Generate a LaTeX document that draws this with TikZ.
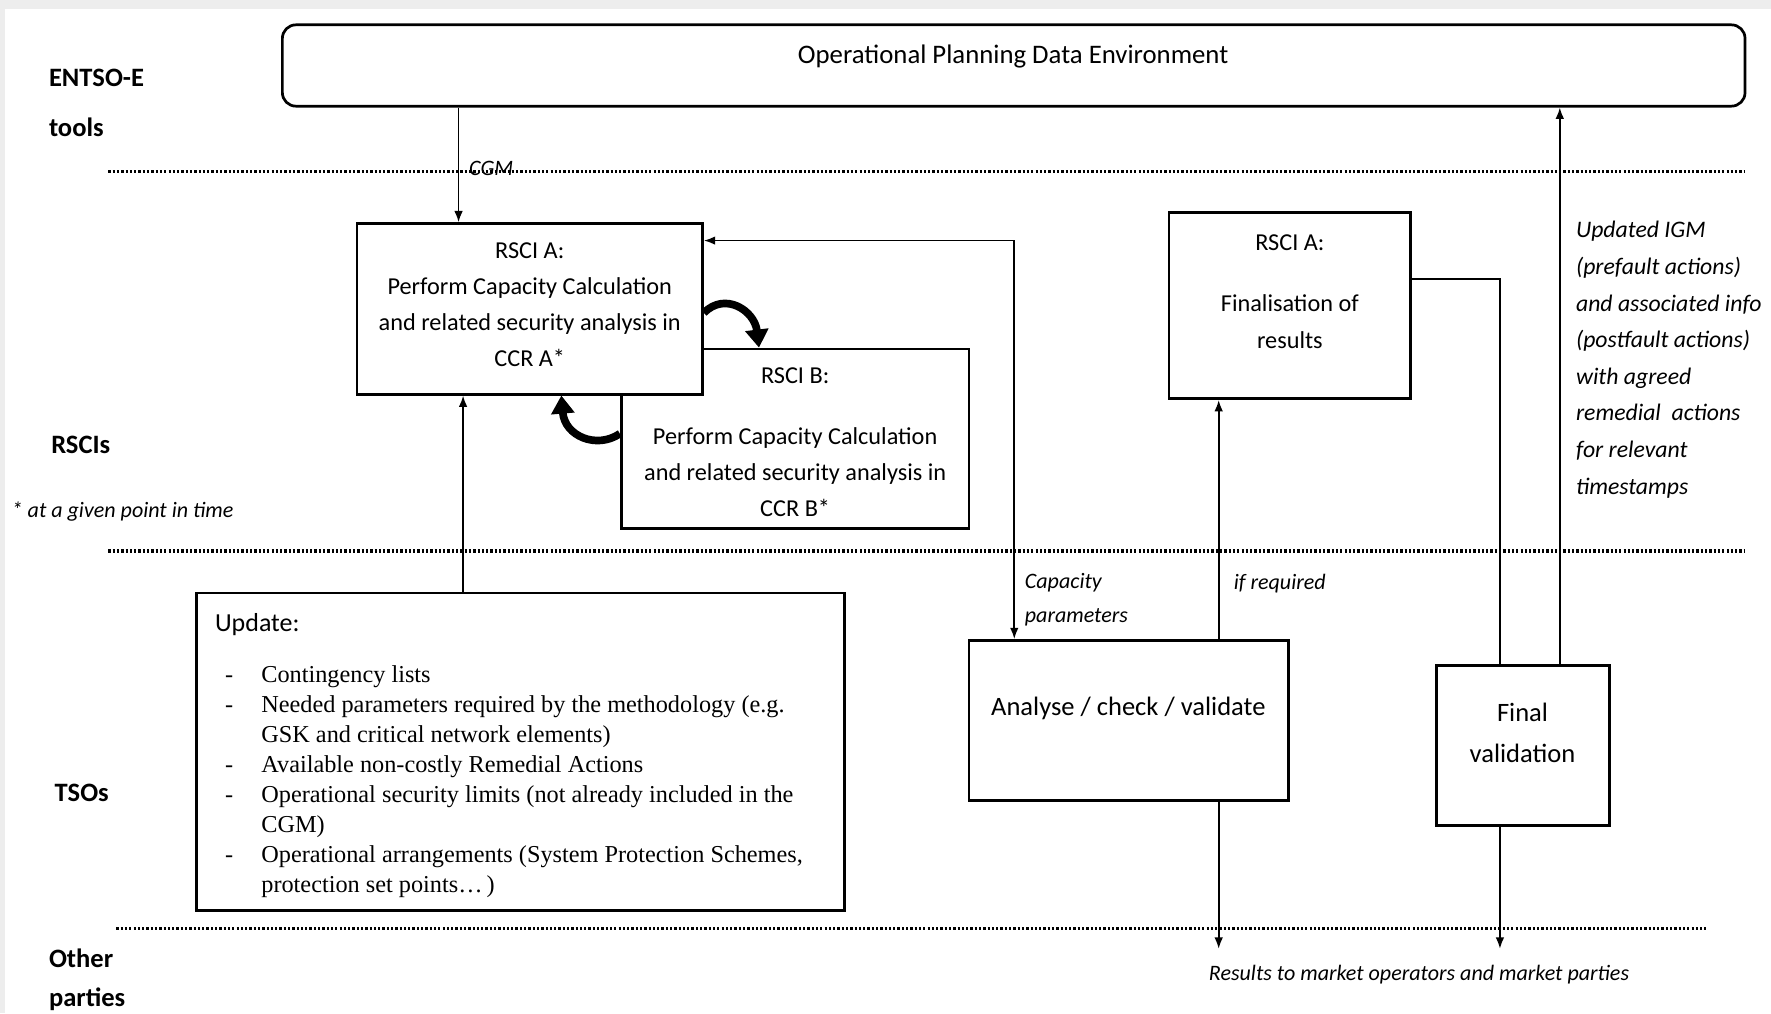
\documentclass[tikz,border=0pt]{standalone}
\usepackage{fontspec}
\setmainfont{Carlito}
\newfontfamily\tnrfont{Liberation Serif}
\usetikzlibrary{arrows.meta}
\begin{document}
\begin{tikzpicture}[x=0.5pt,y=-0.5pt,
  box/.style={draw, line width=1.2pt, fill=white, inner sep=0pt},
  lbl/.style={font=\fontsize{11.75}{14}\selectfont\bfseries, anchor=base west, inner sep=0pt},
  txt/.style={font=\fontsize{10.75}{16}\selectfont, align=center, inner sep=0pt},
  itl/.style={font=\fontsize{9.75}{15}\selectfont\itshape, inner sep=0pt},
  conn/.style={line width=0.75pt},
  arr/.style={conn, -{Latex[length=5pt,width=3.8pt]}},
  sepline/.style={line width=1.5pt, dash pattern=on 1pt off 0.9pt},
  bendarrow/.style={line width=3.4pt, -{Triangle[length=8pt,width=10pt]}}]
\useasboundingbox (0,0) rectangle (1568,897);
\fill[gray!14] (0,0) rectangle (1568,897);
\fill[white] (4,8) rectangle (1568,897);

% separators
\draw[sepline] (96,152) -- (1545,152);
\draw[sepline] (96,488) -- (1545,488);
\draw[sepline] (103,822) -- (1510,822);

% lane labels
\node[lbl] (l1) at (43,76.5) {ENTSO-E};
\node[lbl] (l2) at (43,120.5) {tools};
\node[lbl] (l3) at (45,401.5) {RSCIs};
\node[itl, anchor=base west] (l4) at (10,458.3) {* at a given point in time};
\node[lbl] (l5) at (48,709.5) {TSOs};
\node[lbl] (l6) at (43,856.5) {Other};
\node[lbl] (l7) at (43,891) {parties};

% boxes
\node[box, rounded corners=6pt, minimum width=647.5pt, minimum height=36pt] (opde) at (897.5,58) {};
\node[txt, font=\fontsize{11.85}{16}\selectfont] (opdet) at (897,50) {Operational Planning Data Environment};

\node[box, minimum width=154pt, minimum height=79.5pt] (rsb) at (704,388.5) {};
\node[txt] (rsbt) at (704,391.5) {RSCI B:\\[11pt]Perform Capacity Calculation\\and related security analysis in\\CCR B*};

\node[box, minimum width=153pt, minimum height=75.5pt] (rsa) at (469,273.5) {};
\node[txt] (rsat) at (469,270) {RSCI A:\\Perform Capacity Calculation\\and related security analysis in\\CCR A*};

\node[box, minimum width=107pt, minimum height=82.5pt] (fin) at (1142,270.5) {};
\node[txt, font=\fontsize{10.75}{16.5}\selectfont] (fint) at (1142,258.5) {RSCI A:\\[10.5pt]Finalisation of\\results};

\node[box, minimum width=141.5pt, minimum height=71pt] (ana) at (999.5,638) {};
\node[txt, font=\fontsize{11.75}{18}\selectfont] (anat) at (999,627) {Analyse / check / validate};

\node[box, minimum width=76.5pt, minimum height=71pt] (fv) at (1348.5,660) {};
\node[txt, font=\fontsize{11.75}{18}\selectfont] (fvt) at (1348,649) {Final\\validation};

\node[box, minimum width=287pt, minimum height=140.5pt] (upd) at (461,665.5) {};
\node[anchor=base west, inner sep=0pt, font=\fontsize{11.5}{14}\selectfont] (updt) at (190,559.5) {Update:};
\node[anchor=base west, inner sep=0pt, font=\tnrfont\fontsize{10.75}{13.29}\selectfont] (updl) at (199,604) {%
\begin{tabular}[t]{@{}p{16pt}@{}l@{}}
- & Contingency lists\\
- & Needed parameters required by the methodology (e.g.\\
  & GSK and critical network elements)\\
- & Available non-costly Remedial Actions\\
- & Operational security limits (not already included in the\\
  & CGM)\\
- & Operational arrangements (System Protection Schemes,\\
  & protection set points\ldots\,)
\end{tabular}};

% connector labels
\node[itl, anchor=base west] (cgm) at (415,155) {CGM};
\node[itl, anchor=west, align=left] (cap) at (907,531) {Capacity\\parameters};
\node[itl, anchor=base west] (ifr) at (1092,522) {if required};
\node[itl, anchor=base west] (res) at (1070,868) {Results to market operators and market parties};
\node[itl, font=\fontsize{10.5}{16.2}\selectfont\itshape, anchor=west, align=left] (upg) at (1395,318.5) {Updated IGM\\(prefault actions)\\and associated info\\(postfault actions)\\with agreed\\remedial~ actions\\for relevant\\timestamps};

% connectors
\coordinate (r1) at (1079,840);
\coordinate (r2) at (1328,840);
\draw[arr] (opde.south -| 406,0) -- (rsa.north -| 406,0);
\draw[arr] (upd.north -| 410,0) -- (rsa.south -| 410,0);
\draw[conn, {Latex[length=5pt,width=3.8pt]}-{Latex[length=5pt,width=3.8pt]}] (rsa.east |- 0,213) -| (ana.north -| 898,0);
\draw[arr] (ana.north -| 1079,0) -- (fin.south -| 1079,0);
\draw[arr] (ana.south -| 1079,0) -- (r1);
\draw[conn] (fin.east |- 0,247) -| (fv.north -| 1328,0);
\draw[arr] (fv.north -| 1381,0) -- (opde.south -| 1381,0);
\draw[arr] (fv.south -| 1328,0) -- (r2);

% exchange arrows between RSCIs
\draw[bendarrow] (rsa.east |- 0,277) .. controls (642,258) and (668,275) .. (rsb.north -| 672,0);
\draw[bendarrow] (rsb.west |- 0,384) .. controls (528,398) and (500,386) .. (rsa.south -| 497,0);
\end{tikzpicture}
\end{document}
